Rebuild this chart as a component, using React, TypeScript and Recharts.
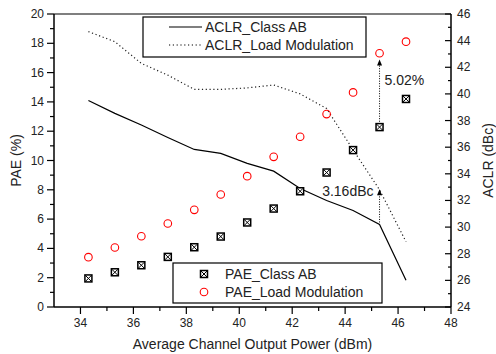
import React from "react";
import {
  ComposedChart,
  Line,
  Scatter,
  XAxis,
  YAxis,
  Legend,
  ReferenceLine,
  ReferenceDot,
} from "recharts";

// output power (dBm)
const power = [34.3, 35.3, 36.3, 37.3, 38.3, 39.3, 40.3, 41.3, 42.3, 43.3, 44.3, 45.3, 46.3];
// PAE (%)
const paeClassAB = [1.95, 2.37, 2.85, 3.42, 4.08, 4.81, 5.77, 6.72, 7.9, 9.18, 10.71, 12.28, 14.2];
const paeLoadMod = [3.4, 4.06, 4.83, 5.7, 6.63, 7.68, 8.93, 10.25, 11.62, 13.17, 14.65, 17.32, 18.11];
// ACLR (dBc)
const aclrClassAB = [39.5, 38.54, 37.66, 36.73, 35.83, 35.53, 34.78, 34.2, 32.9, 32.0, 31.25, 30.2, 26.0];
const aclrLoadMod = [44.68, 43.92, 42.29, 41.41, 40.34, 40.34, 40.45, 40.67, 40.0, 38.9, 35.8, 32.8, 28.9];

const xTicks = [34, 35, 36, 37, 38, 39, 40, 41, 42, 43, 44, 45, 46, 47, 48];
const paeTicks = [0, 1, 2, 3, 4, 5, 6, 7, 8, 9, 10, 11, 12, 13, 14, 15, 16, 17, 18, 19, 20];
const aclrTicks = [24, 25, 26, 27, 28, 29, 30, 31, 32, 33, 34, 35, 36, 37, 38, 39, 40, 41, 42, 43, 44, 45, 46];

const FONT = "'Liberation Sans', Arial, sans-serif";
const TEXT = "#222";

const pts = (ys: number[]) => power.map((x, i) => ({ x, y: ys[i] }));

const BottomTick = ({ x, y, payload }: any) => {
  const major = payload.value % 2 === 0;
  return (
    <g>
      <line x1={x} x2={x} y1={y} y2={y + (major ? 7 : 4)} stroke="#000" strokeWidth={1.2} />
      {major && (
        <text x={x} y={y + 16} textAnchor="middle" dominantBaseline="central" fontSize={12} fill={TEXT} fontFamily={FONT}>
          {payload.value}
        </text>
      )}
    </g>
  );
};

const LeftTick = ({ x, y, payload }: any) => {
  const major = payload.value % 2 === 0;
  return (
    <g>
      <line x1={x - (major ? 7 : 4)} x2={x} y1={y} y2={y} stroke="#000" strokeWidth={1.2} />
      {major && (
        <text x={x - 10} y={y} textAnchor="end" dominantBaseline="central" fontSize={12} fill={TEXT} fontFamily={FONT}>
          {payload.value}
        </text>
      )}
    </g>
  );
};

// right axis ticks point into the plot
const RightTick = ({ x, y, payload }: any) => {
  const major = payload.value % 2 === 0;
  return (
    <g>
      <line x1={x - (major ? 6 : 3)} x2={x} y1={y} y2={y} stroke="#000" strokeWidth={1.2} />
      {major && (
        <text x={x + 6} y={y} textAnchor="start" dominantBaseline="central" fontSize={12} fill={TEXT} fontFamily={FONT}>
          {payload.value}
        </text>
      )}
    </g>
  );
};

const CrossSquare = ({ cx, cy }: any) => (
  <g>
    <rect x={cx - 3.5} y={cy - 3.5} width={7} height={7} fill="#fff" stroke="#000" strokeWidth={1.5} />
    <line x1={cx - 3} y1={cy - 3} x2={cx + 3} y2={cy + 3} stroke="#000" strokeWidth={1} />
    <line x1={cx - 3} y1={cy + 3} x2={cx + 3} y2={cy - 3} stroke="#000" strokeWidth={1} />
  </g>
);

const OpenCircle = ({ cx, cy }: any) => (
  <circle cx={cx} cy={cy} r={3.8} fill="none" stroke="#ff0000" strokeWidth={1.1} />
);

const ArrowHead = ({ cx, cy }: any) => (
  <path d={`M${cx},${cy} L${cx - 2.5},${cy + 6} L${cx + 2.5},${cy + 6} Z`} fill="#000" />
);

const seriesStyle: Record<string, { kind: string; dash?: string }> = {
  "ACLR_Class AB": { kind: "line" },
  "ACLR_Load Modulation": { kind: "line", dash: "1.2 2.6" },
  "PAE_Class AB": { kind: "square" },
  "PAE_Load Modulation": { kind: "circle" },
};

const LegendBoxes = ({ payload }: any) => {
  const items = (payload ?? []).map((p: any) => String(p.value));
  const aclr = items.filter((n: string) => n.startsWith("ACLR"));
  const pae = items.filter((n: string) => n.startsWith("PAE"));
  return (
    <svg width={496} height={354} style={{ position: "absolute", left: 0, top: 0 }}>
      <rect x={143} y={17} width={223} height={40} fill="#fff" stroke="#000" strokeWidth={1.2} />
      {aclr.map((n: string, i: number) => (
        <g key={n}>
          <line x1={169} x2={202} y1={27 + i * 18} y2={27 + i * 18} stroke="#000" strokeWidth={1.2}
            strokeDasharray={seriesStyle[n]?.dash} />
          <text x={205} y={27 + i * 18} dominantBaseline="central" fontSize={14} fill={TEXT} fontFamily={FONT}>{n}</text>
        </g>
      ))}
      <rect x={173} y={263} width={209} height={40} fill="#fff" stroke="#000" strokeWidth={1.2} />
      {pae.map((n: string, i: number) => (
        <g key={n}>
          {seriesStyle[n]?.kind === "square" ? (
            <CrossSquare cx={204} cy={274 + i * 18} />
          ) : (
            <OpenCircle cx={204} cy={274 + i * 18} />
          )}
          <text x={225} y={273.5 + i * 18} dominantBaseline="central" fontSize={14} fill={TEXT} fontFamily={FONT}>{n}</text>
        </g>
      ))}
    </svg>
  );
};

const XTitle = ({ viewBox }: any) => (
  <text x={viewBox.x + viewBox.width / 2} y={viewBox.y + 37} textAnchor="middle" dominantBaseline="central"
    fontSize={14} fill={TEXT} fontFamily={FONT}>
    Average Channel Output Power (dBm)
  </text>
);

const LeftTitle = ({ viewBox }: any) => {
  const x = viewBox.x + 16;
  const y = viewBox.y + viewBox.height / 2;
  return (
    <text x={x} y={y} transform={`rotate(-90 ${x} ${y})`} textAnchor="middle" dominantBaseline="central"
      fontSize={14} fill={TEXT} fontFamily={FONT}>
      PAE (%)
    </text>
  );
};

const RightTitle = ({ viewBox }: any) => {
  const x = viewBox.x + 37;
  const y = viewBox.y + viewBox.height / 2;
  return (
    <text x={x} y={y} transform={`rotate(-90 ${x} ${y})`} textAnchor="middle" dominantBaseline="central"
      fontSize={14} fill={TEXT} fontFamily={FONT}>
      ACLR (dBc)
    </text>
  );
};

export default function App() {
  return (
    <div style={{ position: "absolute", left: 0, top: 0, width: 496, height: 354, background: "#fff" }}>
      <ComposedChart width={496} height={354} margin={{ top: 14, right: 0, bottom: 0, left: 0 }}
        style={{ fontFamily: FONT }}>
        <XAxis dataKey="x" type="number" domain={[33, 48]} ticks={xTicks} interval={0} height={47}
          tickSize={0} tickMargin={0} tick={<BottomTick />} axisLine={{ stroke: "#000", strokeWidth: 1.5 }}
          label={{ content: XTitle }} />
        <YAxis yAxisId="pae" dataKey="y" type="number" domain={[0, 20]} ticks={paeTicks} interval={0} width={54}
          tickSize={0} tickMargin={0} tick={<LeftTick />} axisLine={{ stroke: "#000", strokeWidth: 1.5 }}
          label={{ content: LeftTitle }} />
        <YAxis yAxisId="aclr" orientation="right" dataKey="y" type="number" domain={[24, 46]} ticks={aclrTicks}
          interval={0} width={45} tickSize={0} tickMargin={0} tick={<RightTick />}
          axisLine={{ stroke: "#000", strokeWidth: 1.5 }} label={{ content: RightTitle }} />

        <ReferenceLine yAxisId="pae" y={20} stroke="#000" strokeWidth={1.2} />

        <Line yAxisId="aclr" data={pts(aclrClassAB)} dataKey="y" name="ACLR_Class AB" type="linear"
          stroke="#000" strokeWidth={1.2} dot={false} isAnimationActive={false} />
        <Line yAxisId="aclr" data={pts(aclrLoadMod)} dataKey="y" name="ACLR_Load Modulation" type="linear"
          stroke="#222" strokeWidth={1.2} strokeDasharray="1.2 2.6" dot={false} isAnimationActive={false} />
        <Scatter yAxisId="pae" data={pts(paeClassAB)} dataKey="y" name="PAE_Class AB" shape={CrossSquare}
          isAnimationActive={false} />
        <Scatter yAxisId="pae" data={pts(paeLoadMod)} dataKey="y" name="PAE_Load Modulation" shape={OpenCircle}
          isAnimationActive={false} />

        {/* 5.02% arrow */}
        <ReferenceLine yAxisId="pae" segment={[{ x: 45.3, y: 12.65 }, { x: 45.3, y: 16.6 }]} stroke="#000"
          strokeWidth={1} strokeDasharray="1 1.5" />
        <ReferenceDot yAxisId="pae" x={45.3} y={16.9} shape={ArrowHead} />
        <ReferenceDot yAxisId="pae" x={45.3} y={15.49} r={0} fill="none" stroke="none"
          label={{ value: "5.02%", position: "right", offset: 5, fontSize: 14, fill: TEXT, fontFamily: FONT }} />

        {/* 3.16dBc arrow */}
        <ReferenceLine yAxisId="aclr" segment={[{ x: 45.3, y: 30.35 }, { x: 45.3, y: 32.5 }]} stroke="#000"
          strokeWidth={1} strokeDasharray="1 1.5" />
        <ReferenceDot yAxisId="aclr" x={45.3} y={32.85} shape={ArrowHead} />
        <ReferenceDot yAxisId="aclr" x={45.3} y={32.72} r={0} fill="none" stroke="none"
          label={{ value: "3.16dBc", position: "left", offset: 6, fontSize: 14, fill: TEXT, fontFamily: FONT }} />

        <Legend layout="horizontal" verticalAlign="middle" align="center" content={<LegendBoxes />}
          wrapperStyle={{ left: 0, top: 0, width: 496, height: 354, pointerEvents: "none" }} />
      </ComposedChart>
    </div>
  );
}
